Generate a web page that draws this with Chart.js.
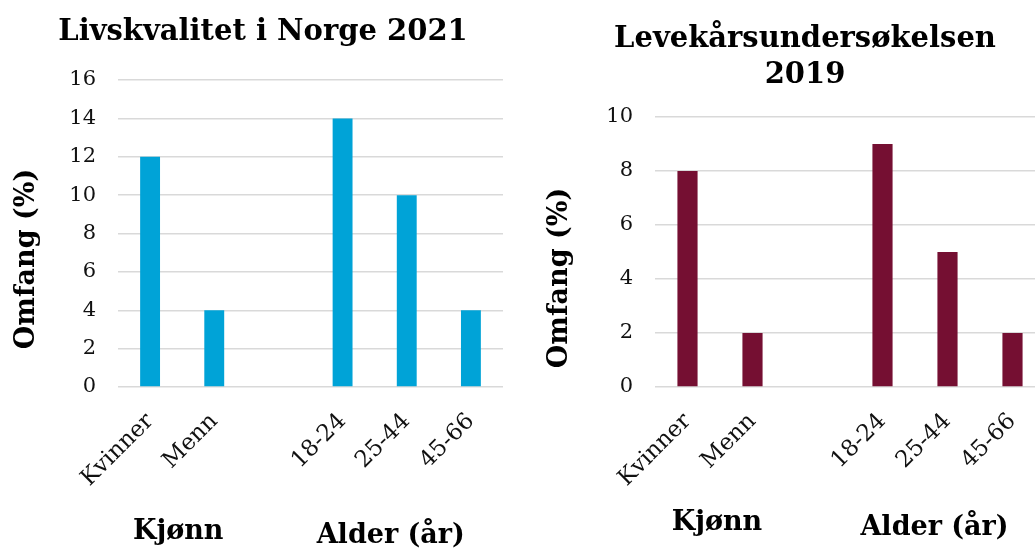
<!DOCTYPE html>
<html>
<head>
<meta charset="utf-8">
<script src="https://cdn.jsdelivr.net/npm/chart.js@4.4.0/dist/chart.umd.min.js"></script>
<style>
  html, body { margin: 0; padding: 0; background: #fff; overflow: hidden; }
  #wrap { position: relative; width: 1035px; height: 549px; overflow: hidden; }
  canvas { position: absolute; top: 0; }
  #chartLeft { left: 0; }
  #chartRight { left: 520px; }
</style>
</head>
<body>
<div id="wrap">
  <canvas id="chartLeft" width="520" height="549"></canvas>
  <canvas id="chartRight" width="530" height="549"></canvas>
</div>
<script>
// categories (empty slot separates the two groups)
const categories = ['Kvinner', 'Menn', '', '18-24', '25-44', '45-66'];
const livskvalitet2021 = [12, 4, null, 14, 10, 4];
const levekar2019 = [8, 2, null, 9, 5, 2];
const leftTicks = [0, 2, 4, 6, 8, 10, 12, 14, 16];
const rightTicks = [0, 2, 4, 6, 8, 10];
const groupLabels = ['Kjønn', 'Alder (år)'];
const groupMembers = [[0, 1], [3, 4, 5]];
const yTitle = 'Omfang (%)';

const serif = '"DejaVu Serif", Georgia, serif';

// draws titles, axis title and the group labels under the category axis
const textPlugin = {
  id: 'texts',
  afterDraw(chart, args, opts) {
    const ctx = chart.ctx;
    const x = chart.scales.x;
    ctx.save();
    ctx.fillStyle = '#000';
    ctx.textAlign = 'center';
    ctx.textBaseline = 'alphabetic';
    ctx.font = 'bold 29px ' + serif;
    opts.title.forEach((line, i) => {
      ctx.fillText(line, opts.titleX, opts.titleY + i * 36);
    });
    ctx.font = 'bold 27px ' + serif;
    groupLabels.forEach((lab, i) => {
      const idx = groupMembers[i];
      const cx = idx.reduce((s, j) => s + x.getPixelForValue(j), 0) / idx.length;
      ctx.fillText(lab, cx + opts.groupDx[i], opts.groupY[i]);
    });
    ctx.translate(opts.yTitleX, opts.yTitleY);
    ctx.rotate(-Math.PI / 2);
    ctx.textBaseline = 'middle';
    ctx.fillText(yTitle, 0, 0);
    ctx.restore();
  }
};

function makeChart(id, values, color, ticks, yWidth, padding, texts) {
  const ctx = document.getElementById(id).getContext('2d');
  return new Chart(ctx, {
    type: 'bar',
    data: {
      labels: categories,
      datasets: [{
        data: values,
        backgroundColor: color,
        borderWidth: 0,
        categoryPercentage: 1,
        barPercentage: 0.31
      }]
    },
    options: {
      responsive: false,
      animation: false,
      devicePixelRatio: 1,
      layout: { padding: padding },
      plugins: {
        legend: { display: false },
        tooltip: { enabled: false },
        title: { display: false },
        texts: texts
      },
      scales: {
        x: {
          grid: { display: false },
          border: { display: false },
          ticks: {
            minRotation: 45,
            maxRotation: 45,
            padding: 13,
            color: '#111',
            font: { family: serif, size: 23 }
          },
          afterFit: (scale) => { scale.height = 162; }
        },
        y: {
          min: 0,
          max: ticks[ticks.length - 1],
          afterBuildTicks: (scale) => { scale.ticks = ticks.map(v => ({ value: v })); },
          grid: { color: '#d9d9d9', lineWidth: 1.5, drawTicks: false },
          border: { display: false },
          ticks: {
            padding: 22,
            color: '#111',
            font: { family: serif, size: 21 }
          },
          afterFit: (scale) => { scale.width = yWidth; }
        }
      }
    },
    plugins: [textPlugin]
  });
}

makeChart('chartLeft', livskvalitet2021, '#00a3d7', leftTicks, 118,
  { top: 80, right: 17, bottom: 0, left: 0 },
  { title: ['Livskvalitet i Norge 2021'], titleX: 263, titleY: 40,
    groupDx: [-4, -16], groupY: [539, 543], yTitleX: 27, yTitleY: 259 });

makeChart('chartRight', levekar2019, '#750f32', rightTicks, 135,
  { top: 117, right: 5, bottom: 0, left: 0 },
  { title: ['Levekårsundersøkelsen', '2019'], titleX: 285, titleY: 47,
    groupDx: [-3, -13], groupY: [530, 535], yTitleX: 40, yTitleY: 278 });
</script>
</body>
</html>
